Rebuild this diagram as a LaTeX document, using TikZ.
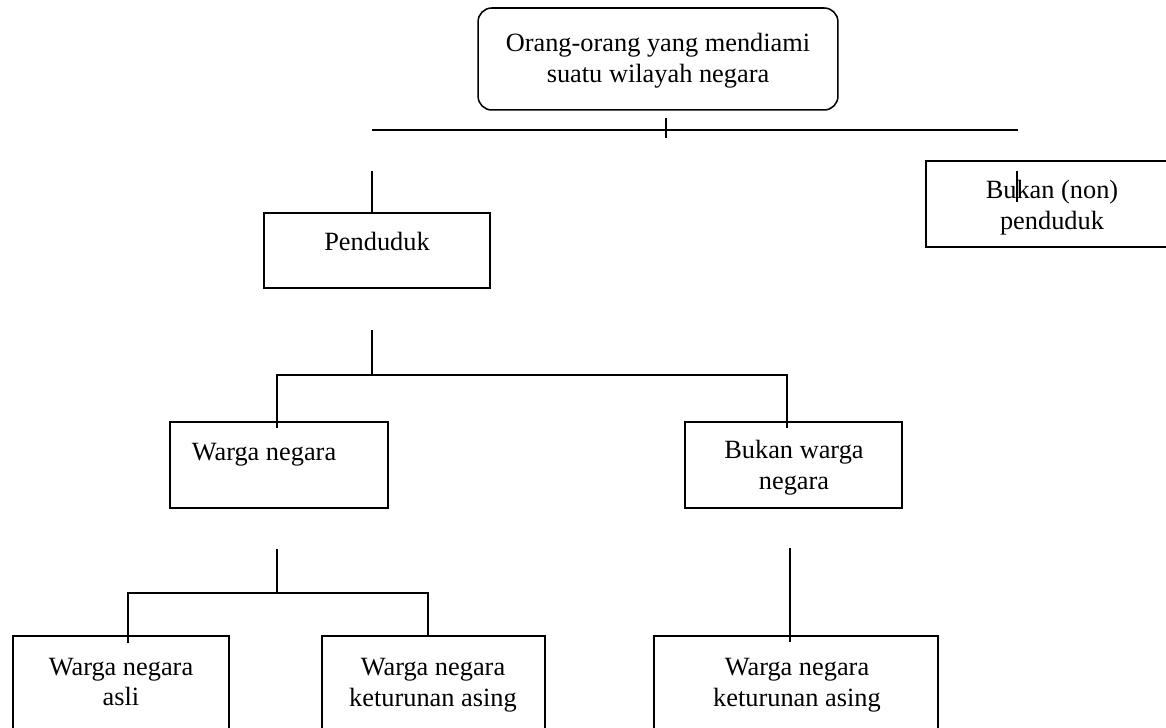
\documentclass[tikz,border=0pt]{standalone}
\usepackage{fontspec}
\setmainfont{Liberation Serif}
\usepackage{tikz}
\tikzstyle{box}=[draw,rectangle,line width=0.7pt,inner sep=0pt]
\tikzstyle{rbox}=[draw,rectangle,rounded corners=0.22cm,line width=0.7pt,inner sep=0pt]
\tikzstyle{txt}=[align=center,inner sep=0pt,font=\fontsize{12}{14}\selectfont]
\tikzstyle{conn}=[line width=0.6pt]

\begin{document}
\begin{tikzpicture}[x=0.016cm,y=-0.016cm]
                    \useasboundingbox (0,0) rectangle (1166,728);
                    \clip (0,0) rectangle (1166,728);

                    \node (top) at (658,59) [rbox,minimum width=5.76cm,minimum height=1.632cm] {};
                    \node (pend) at (377,250.5) [box,minimum width=3.616cm,minimum height=1.2cm] {};
                    \node (nonpend) at (1068,204) [box,minimum width=4.544cm,minimum height=1.376cm] {};
                    \node (wn) at (279,465) [box,minimum width=3.488cm,minimum height=1.376cm] {};
                    \node (bwn) at (793.5,465) [box,minimum width=3.472cm,minimum height=1.376cm] {};
                    \node (wna) at (121,708) [box,minimum width=3.456cm,minimum height=2.304cm] {};
                    \node (wnka) at (433.5,708) [box,minimum width=3.568cm,minimum height=2.304cm] {};
                    \node (wnkb) at (796,708) [box,minimum width=4.544cm,minimum height=2.304cm] {};

                    \node (toptxt) at (658,61) [txt] {Orang-orang yang mendiami\\suatu wilayah negara};
                    \node (pendtxt) at (377,251) [txt,anchor=base] {Penduduk};
                    \node (nonpendtxt) at (1052,208) [txt] {Bukan (non)\\penduduk};
                    \node (wntxt) at (264,461) [txt,anchor=base] {Warga negara};
                    \node (bwntxt) at (794,468) [txt] {Bukan warga\\negara};
                    \node (wnatxt) at (121,682) [txt] {Warga negara\\asli};
                    \node (wnkatxt) at (433,685) [txt] {Warga negara\\keturunan asing};
                    \node (wnkbtxt) at (797,685) [txt] {Warga negara\\keturunan asing};

                    \coordinate (h1) at (372,130);
                    \coordinate (h2) at (1018,130);
                    \coordinate (t1) at (666,118);
                    \coordinate (t2) at (666,138);
                    \coordinate (p1) at (372,171);
                    \coordinate (n1) at (1017,171);
                    \coordinate (n2) at (1017,202);
                    \coordinate (p2) at (372,330);
                    \coordinate (p3) at (372,375);
                    \coordinate (s1) at (277,375);
                    \coordinate (s2) at (787,375);
                    \coordinate (s3) at (277,428);
                    \coordinate (s4) at (787,428);
                    \coordinate (w1) at (277,549);
                    \coordinate (w2) at (277,593);
                    \coordinate (w3) at (128,593);
                    \coordinate (w4) at (428,593);
                    \coordinate (w5) at (128,643);
                    \coordinate (b1) at (790,548);
                    \coordinate (b2) at (790,642);

                    \draw [conn] (h1) -- (h2);
                    \draw [conn] (t1) -- (t2);
                    \draw [conn] (p1) -- (p1 |- pend.north);
                    \draw [conn] (n1) -- (n2);
                    \draw [conn] (p2) -- (p3);
                    \draw [conn] (s3) -- (s1) -- (s2) -- (s4);
                    \draw [conn] (w1) -- (w2);
                    \draw [conn] (w5) -- (w3) -- (w4) -- (w4 |- wnka.north);
                    \draw [conn] (b1) -- (b2);
                \end{tikzpicture}
\end{document}
